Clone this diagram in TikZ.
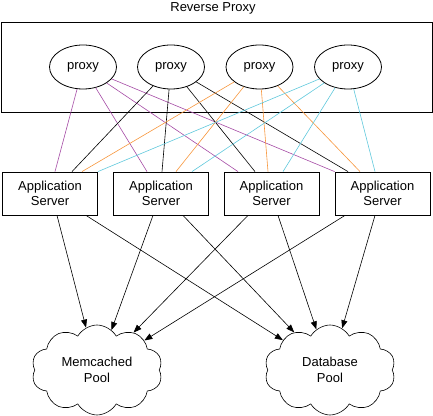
\documentclass[tikz,border=0pt]{standalone}
\usepackage{fontspec}
\setmainfont{Liberation Sans}
\usetikzlibrary{shapes.geometric,shapes.symbols,arrows.meta,calc}
\definecolor{cpurple}{RGB}{165,75,165}
\definecolor{corange}{RGB}{247,150,60}
\definecolor{ccyan}{RGB}{95,200,220}
\tikzset{
  every node/.style={font=\fontsize{13}{15.6}\selectfont},
  proxynode/.style={ellipse,draw,line width=0.8pt,minimum width=67pt,minimum height=44pt,inner sep=0pt},
  appbox/.style={rectangle,draw,line width=0.8pt,minimum width=95pt,minimum height=43pt,inner sep=0pt,align=center},
  pool/.style={cloud,draw,line width=0.6pt,cloud puffs=10,cloud puff arc=120,aspect=1.45,minimum width=131pt,minimum height=90pt,inner sep=0pt,align=center},
  link/.style={line width=0.6pt},
  arr/.style={line width=0.6pt,-{Triangle[length=8pt,width=6pt]}}
}
\begin{document}
\begin{tikzpicture}[x=1pt,y=1pt]
\useasboundingbox (0,0) rectangle (433,415);
\node (title) at (213,407) {Reverse Proxy};
\draw[line width=0.8pt] (1,303) rectangle (432,393);
\node[proxynode] (p1) at (83,348) {proxy};
\node[proxynode] (p2) at (171,348) {proxy};
\node[proxynode] (p3) at (259.5,348) {proxy};
\node[proxynode] (p4) at (348,348) {proxy};
\node[appbox] (b1) at (50,221.5) {Application\\Server};
\node[appbox] (b2) at (161,221.5) {Application\\Server};
\node[appbox] (b3) at (271.5,221.5) {Application\\Server};
\node[appbox] (b4) at (382.5,221.5) {Application\\Server};
\node[pool] (mem) at (97,45) {Memcached\\Pool};
\node[pool] (db) at (330,45) {Database\\Pool};
% proxy 1 (purple)
\draw[link,cpurple] (p1) -- ([xshift=5pt]b1.north);
\draw[link,cpurple] (p1) -- ([xshift=-14pt]b2.north);
\draw[link,cpurple] (p1) -- ([xshift=-33.5pt]b3.north);
\draw[link,cpurple] (p1) -- (b4.north west);
% proxy 2 (black)
\draw[link] (p2) -- ([xshift=22pt]b1.north);
\draw[link] (p2) -- ([xshift=1pt]b2.north);
\draw[link] (p2) -- ([xshift=-16.5pt]b3.north);
\draw[link] (p2) -- ([xshift=-34.5pt]b4.north);
% proxy 3 (orange)
\draw[link,corange] (p3) -- ([xshift=32pt]b1.north);
\draw[link,corange] (p3) -- ([xshift=15pt]b2.north);
\draw[link,corange] (p3) -- ([xshift=-3.5pt]b3.north);
\draw[link,corange] (p3) -- ([xshift=-22.5pt]b4.north);
% proxy 4 (cyan)
\draw[link,ccyan] (p4) -- (b1.north east);
\draw[link,ccyan] (p4) -- ([xshift=31pt]b2.north);
\draw[link,ccyan] (p4) -- ([xshift=11.5pt]b3.north);
\draw[link,ccyan] (p4) -- ([xshift=-7.5pt]b4.north);
% app servers to pools
\draw[arr] ([xshift=7pt]b1.south) -- (mem);
\draw[arr] ([xshift=36pt]b1.south) -- (db);
\draw[arr] ([xshift=-8pt]b2.south) -- (mem);
\draw[arr] ([xshift=22pt]b2.south) -- (db);
\draw[arr] ([xshift=-23.5pt]b3.south) -- (mem);
\draw[arr] ([xshift=6.5pt]b3.south) -- (db);
\draw[arr] ([xshift=-37.5pt]b4.south) -- (mem);
\draw[arr] ([xshift=-7.5pt]b4.south) -- (db);
\end{tikzpicture}
\end{document}
